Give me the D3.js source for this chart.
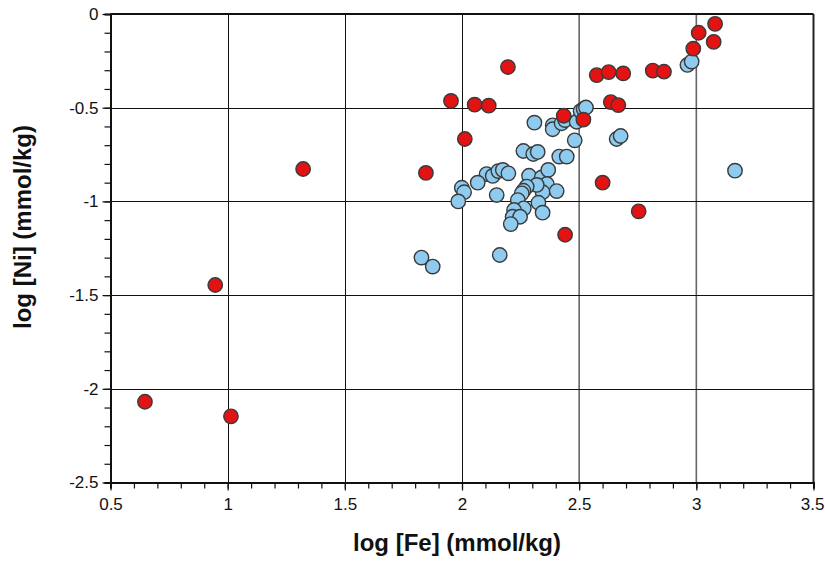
<!DOCTYPE html>
<html><head><meta charset="utf-8">
<script src="https://cdn.jsdelivr.net/npm/d3@7"></script>
<style>body{margin:0;background:#fff}svg{display:block}text{font-family:"Liberation Sans",Arial,sans-serif}</style>
</head><body><svg id="c" width="825" height="562"></svg>
<script>
const xTicks = [0.5,1,1.5,2,2.5,3,3.5];
const yTicks = [0,-0.5,-1,-1.5,-2,-2.5];
const xLabels = ["0.5","1","1.5","2","2.5","3","3.5"];
const yLabels = ["0","-0.5","-1","-1.5","-2","-2.5"];

const blueFe = [2.309,2.387,2.387,2.425,2.440,2.489,2.506,2.519,2.529,2.481,2.262,2.304,2.323,2.415,2.447,
  2.105,2.131,2.155,2.067,1.999,2.009,1.984,2.148,2.174,2.198,2.286,2.340,2.368,2.362,2.344,2.404,2.319,
  2.276,2.262,2.255,2.238,2.326,2.264,2.222,2.344,2.216,2.248,2.208,1.827,1.875,2.161,2.660,2.677,3.165,2.962,2.980];
const blueNi = [-0.580,-0.594,-0.615,-0.583,-0.566,-0.575,-0.518,-0.507,-0.499,-0.674,-0.731,-0.747,-0.736,-0.761,-0.761,
  -0.854,-0.864,-0.838,-0.900,-0.927,-0.951,-1.000,-0.966,-0.832,-0.850,-0.863,-0.872,-0.832,-0.907,-0.951,-0.945,-0.912,
  -0.921,-0.943,-0.957,-0.993,-1.007,-1.037,-1.046,-1.060,-1.082,-1.082,-1.121,-1.300,-1.348,-1.286,-0.667,-0.651,-0.836,-0.272,-0.254];

const redFe = [0.647,1.014,0.947,1.322,1.846,1.953,2.054,2.114,2.012,2.196,2.434,2.518,2.440,2.600,2.754,
  2.575,2.626,2.688,2.814,2.862,2.635,2.667,2.987,3.010,3.080,3.074];
const redNi = [-2.069,-2.147,-1.446,-0.827,-0.848,-0.464,-0.484,-0.489,-0.667,-0.283,-0.543,-0.564,-1.178,-0.900,-1.053,
  -0.326,-0.310,-0.317,-0.302,-0.308,-0.470,-0.486,-0.185,-0.100,-0.053,-0.149];

const svg = d3.select("#c");
const L = 110.5, R = 813.5, T = 14, B = 482.5;
const x = d3.scaleLinear().domain([0.5,3.5]).range([L,R]);
const y = d3.scaleLinear().domain([-2.5,0]).range([B,T]);

// gridlines
const g = svg.append("g");
g.selectAll("line.v").data(xTicks.slice(1,-1)).join("line")
  .attr("x1",d=>d>=2.5?x(d):Math.round(x(d))+0.5).attr("x2",d=>d>=2.5?x(d):Math.round(x(d))+0.5).attr("y1",T).attr("y2",B)
  .attr("stroke",d=>d>=2.5?"#666":"#111").attr("stroke-width",d=>d>=2.5?1.6:1);
g.selectAll("line.h").data(yTicks.slice(1,-1)).join("line")
  .attr("y1",d=>Math.round(y(d))+0.5).attr("y2",d=>Math.round(y(d))+0.5).attr("x1",L).attr("x2",R)
  .attr("stroke","#111").attr("stroke-width",1);
// frame top/right
svg.append("line").attr("x1",L).attr("x2",R).attr("y1",T).attr("y2",T).attr("stroke","#111").attr("stroke-width",2);
svg.append("line").attr("x1",R).attr("x2",R).attr("y1",T).attr("y2",B).attr("stroke","#222").attr("stroke-width",2);

// axes
const minorX = d3.range(5,36).map(i=>i/10);
const minorY = d3.range(0,26).map(i=>-i/10);
const xAxis = svg.append("g").attr("transform",`translate(0,${B})`);
xAxis.call(d3.axisBottom(x).tickValues(minorX).tickSize(6).tickFormat(""));
xAxis.selectAll(".tick line").attr("stroke","#111").attr("stroke-width",1.2);
xAxis.select(".domain").attr("stroke","#111").attr("stroke-width",2);
const xMaj = svg.append("g").attr("transform",`translate(0,${B})`)
  .call(d3.axisBottom(x).tickValues(xTicks).tickSize(8).tickPadding(7).tickFormat((d,i)=>xLabels[i]));
xMaj.select(".domain").remove();
xMaj.selectAll(".tick line").attr("stroke","#111").attr("stroke-width",1.2);
xMaj.selectAll("text").attr("font-size",17).attr("fill","#111");
// keep the last label inside the canvas
xMaj.selectAll("text").filter(d=>d===3.5).attr("text-anchor","end").attr("x",824-R);

const yAxis = svg.append("g").attr("transform",`translate(${L},0)`);
yAxis.call(d3.axisLeft(y).tickValues(minorY).tickSize(6).tickFormat(""));
yAxis.selectAll(".tick line").attr("stroke","#111").attr("stroke-width",1.2);
yAxis.select(".domain").attr("stroke","#111").attr("stroke-width",2);
const yMaj = svg.append("g").attr("transform",`translate(${L},0)`)
  .call(d3.axisLeft(y).tickValues(yTicks).tickSize(8).tickPadding(4).tickFormat((d,i)=>yLabels[i]));
yMaj.select(".domain").remove();
yMaj.selectAll(".tick line").attr("stroke","#111").attr("stroke-width",1.2);
yMaj.selectAll("text").attr("font-size",17).attr("fill","#111");

// titles
svg.append("text").attr("x",457).attr("y",551).attr("text-anchor","middle")
  .attr("font-size",24).attr("font-weight","bold").attr("fill","#111").text("log [Fe] (mmol/kg)");
svg.append("text").attr("transform",`translate(31,227) rotate(-90)`).attr("text-anchor","middle")
  .attr("font-size",24).attr("font-weight","bold").attr("fill","#111").text("log [Ni] (mmol/kg)");

// points
const blue = blueFe.map((d,i)=>({fe:d,ni:blueNi[i]}));
const red = redFe.map((d,i)=>({fe:d,ni:redNi[i]}));
svg.append("g").selectAll("circle").data(blue).join("circle")
  .attr("cx",d=>x(d.fe)).attr("cy",d=>y(d.ni)).attr("r",7.2)
  .attr("fill","#8ecbee").attr("stroke","#3a3a3a").attr("stroke-width",1.4);
svg.append("g").selectAll("circle").data(red).join("circle")
  .attr("cx",d=>x(d.fe)).attr("cy",d=>y(d.ni)).attr("r",7.2)
  .attr("fill","#e31313").attr("stroke","#3a3a3a").attr("stroke-width",1.4);
</script></body></html>
